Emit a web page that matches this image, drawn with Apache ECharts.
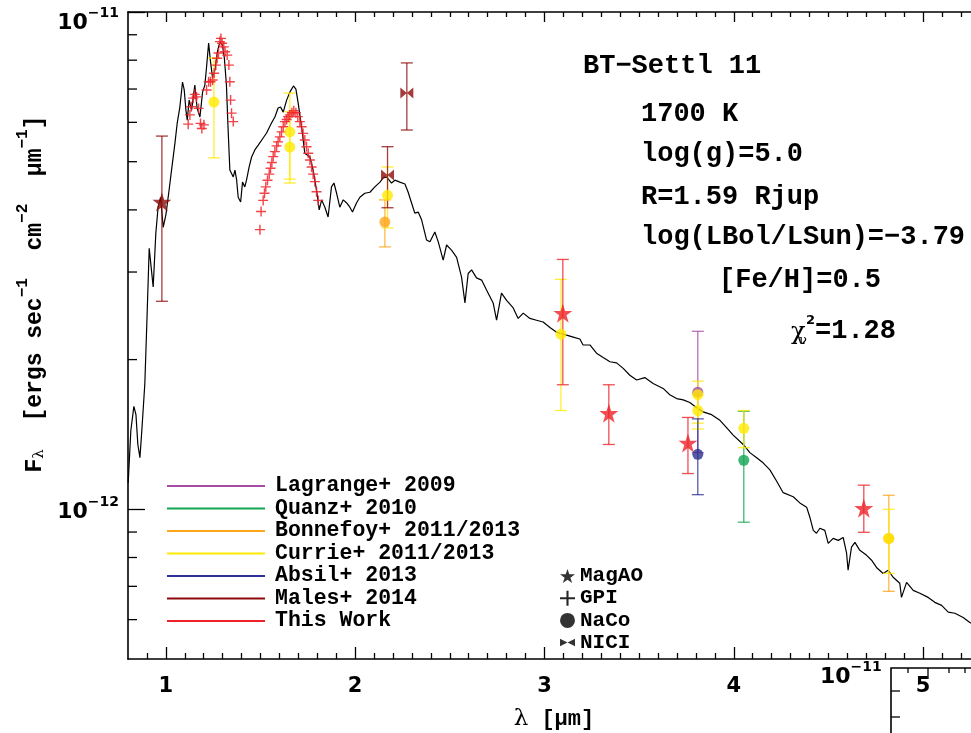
<!DOCTYPE html>
<html><head><meta charset="utf-8">
<script src="https://cdn.jsdelivr.net/npm/echarts@6/dist/echarts.min.js"></script>
<style>html,body{margin:0;padding:0;background:#fff}#c{width:971px;height:733px}</style>
</head><body><div id="c"></div>
<script>
// ---------------- DATA (wavelength in micron, flux in units of 1e-12 erg s^-1 cm^-2 um^-1) -------------
const modelLambda = [0.801,0.815,0.831,0.842,0.852,0.863,0.873,0.889,0.900,0.912,0.919,0.933,0.947,0.959,0.972,0.986,1.000,1.017,1.030,1.048,1.060,1.074,1.088,1.097,1.106,1.113,1.123,1.136,1.153,1.165,1.180,1.194,1.206,1.215,1.226,1.236,1.247,1.259,1.272,1.285,1.299,1.309,1.320,1.328,1.338,1.356,1.365,1.374,1.382,1.395,1.405,1.417,1.426,1.440,1.453,1.470,1.488,1.514,1.532,1.558,1.576,1.593,1.606,1.620,1.638,1.655,1.674,1.687,1.699,1.717,1.734,1.761,1.778,1.796,1.810,1.823,1.840,1.857,1.875,1.888,1.902,1.919,1.937,1.955,1.972,1.986,2.007,2.025,2.051,2.078,2.104,2.131,2.148,2.166,2.192,2.210,2.236,2.263,2.280,2.298,2.315,2.333,2.351,2.377,2.395,2.421,2.439,2.465,2.483,2.509,2.536,2.562,2.580,2.597,2.615,2.641,2.668,2.694,2.729,2.747,2.773,2.800,2.835,2.861,2.888,2.923,2.958,2.993,3.029,3.064,3.117,3.152,3.187,3.204,3.240,3.275,3.310,3.346,3.381,3.416,3.451,3.487,3.530,3.574,3.627,3.662,3.698,3.733,3.768,3.804,3.838,3.883,3.927,3.962,3.997,4.050,4.085,4.121,4.155,4.191,4.226,4.261,4.314,4.349,4.385,4.402,4.420,4.437,4.455,4.481,4.499,4.525,4.552,4.578,4.596,4.604,4.622,4.640,4.666,4.702,4.728,4.754,4.789,4.816,4.842,4.877,4.886,4.913,4.948,4.983,5.027,5.062,5.098,5.133,5.168,5.212,5.247,5.327];
const modelFlux = [1.13,1.44,1.61,1.55,1.35,1.27,1.44,1.79,2.40,3.35,3.32,2.80,3.59,4.05,4.24,3.69,3.91,4.38,4.81,5.45,5.98,6.44,7.23,6.97,6.35,6.06,6.65,6.35,7.13,6.41,6.15,6.90,7.13,7.75,8.66,7.93,7.37,7.64,8.31,8.70,8.58,8.08,7.13,5.92,4.81,4.66,4.81,4.59,4.24,4.15,4.55,4.45,4.59,4.88,5.11,5.28,5.40,5.58,5.71,5.98,6.15,6.41,6.44,6.29,6.65,6.90,7.10,7.00,6.56,5.87,5.20,5.11,4.81,4.38,4.00,4.19,4.05,3.87,4.45,4.53,4.32,4.05,4.19,4.13,4.05,3.96,4.13,4.24,4.32,4.34,4.45,4.55,4.64,4.66,4.53,4.59,4.55,4.51,4.34,4.13,3.94,3.96,3.82,3.48,3.45,3.61,3.45,3.17,3.40,3.32,3.21,2.93,2.60,2.98,3.03,2.92,2.89,2.76,2.60,2.40,2.72,2.63,2.54,2.42,2.48,2.42,2.40,2.38,2.32,2.27,2.24,2.22,2.20,2.14,2.14,2.06,2.02,1.98,1.97,1.92,1.86,1.82,1.84,1.79,1.75,1.70,1.67,1.66,1.64,1.60,1.57,1.55,1.51,1.46,1.41,1.35,1.30,1.27,1.24,1.20,1.14,1.08,1.06,1.03,1.01,0.964,0.907,0.895,0.916,0.907,0.854,0.874,0.866,0.878,0.816,0.754,0.839,0.858,0.827,0.808,0.790,0.764,0.743,0.754,0.730,0.710,0.665,0.713,0.687,0.678,0.665,0.650,0.641,0.621,0.618,0.606,0.592,0.576];

// GPI spectra (This Work), J and H bands
const gpiLambda = [1.118,1.127,1.134,1.144,1.153,1.162,1.173,1.183,1.190,1.201,1.215,1.226,1.236,1.247,1.255,1.264,1.271,1.278,1.285,1.291,1.297,1.306,1.313,1.324,1.333,1.338,1.342,1.347,1.356,
  1.497,1.503,1.514,1.521,1.528,1.537,1.546,1.553,1.560,1.567,1.576,1.585,1.593,1.602,1.611,1.620,1.629,1.638,1.646,1.655,1.666,1.676,1.687,1.697,1.708,1.717,1.725,1.734,1.743,1.752,1.761,1.770,1.778,1.787,1.796,1.805];
const gpiFlux = [5.95,6.21,6.45,6.71,6.83,6.75,6.40,5.97,5.83,5.93,6.97,7.24,7.24,7.30,7.53,7.82,8.07,8.27,8.72,8.85,8.65,8.51,8.32,8.19,7.82,7.24,6.65,6.26,6.02,
  3.65,3.97,4.18,4.32,4.45,4.59,4.72,4.85,4.98,5.12,5.24,5.38,5.48,5.61,5.74,5.88,6.02,6.08,6.16,6.21,6.27,6.33,6.27,6.16,6.02,5.88,5.70,5.53,5.36,5.20,5.04,4.88,4.72,4.56,4.35,4.18];

// MagAO photometry
const magaoLambda = [0.979, 3.097, 3.340, 3.758, 4.687];
const magaoFlux   = [4.15, 2.48, 1.56, 1.36, 1.005];
const magaoLow    = [2.62, 1.78, 1.35, 1.18, 0.899];
const magaoHigh   = [5.63, 3.18, 1.78, 1.53, 1.118];
const magaoSource = ['Males+ 2014','This Work','This Work','This Work','This Work'];

// NICI photometry
const niciLambda = [2.171, 2.273];
const niciFlux   = [4.70, 6.87];
const niciLow    = [4.04, 5.79];
const niciHigh   = [5.36, 7.90];
const niciSource = ['Males+ 2014','Males+ 2014'];

// NaCo photometry
const nacoLambda = [1.254,1.655,1.655,2.157,2.171,3.087,3.810,3.810,3.810,3.810,4.053,4.053,4.819,4.819];
const nacoFlux   = [6.59,5.74,5.35,3.78,4.28,2.25,1.72,1.70,1.58,1.29,1.455,1.255,0.874,0.874];
const nacoLow    = [5.09,4.61,4.53,3.37,3.68,1.58,1.30,1.45,1.49,1.07,1.33,0.942,0.684,0.743];
const nacoHigh   = [8.08,6.87,6.30,4.19,4.88,2.90,2.28,1.81,1.70,1.52,1.58,1.575,1.067,1.00];
const nacoSource = ['Currie+ 2011/2013','Currie+ 2011/2013','Currie+ 2011/2013','Bonnefoy+ 2011/2013','Currie+ 2011/2013','Currie+ 2011/2013','Lagrange+ 2009','Currie+ 2011/2013','Currie+ 2011/2013','Absil+ 2013','Currie+ 2011/2013','Quanz+ 2010','Bonnefoy+ 2011/2013','Currie+ 2011/2013'];

const sourceNames = ['Lagrange+ 2009','Quanz+ 2010','Bonnefoy+ 2011/2013','Currie+ 2011/2013','Absil+ 2013','Males+ 2014','This Work'];
const instrumentNames = ['MagAO','GPI','NaCo','NICI'];

// axis ticks
const xMajorTicks = [1,2,3,4,5];
const xMinorTicks = [0.9,1.1,1.2,1.3,1.4,1.5,1.6,1.7,1.8,1.9,2.1,2.2,2.3,2.4,2.5,2.6,2.7,2.8,2.9,3.1,3.2,3.3,3.4,3.5,3.6,3.7,3.8,3.9,4.1,4.2,4.3,4.4,4.5,4.6,4.7,4.8,4.9,5.1,5.2];
const yMinorTicks = [0.6,0.7,0.8,0.9,2,3,4,5,6,7,8,9];
const yTickLabels = {1: '−12', 10: '−11'};

// annotation texts
const modelTitle = 'BT−Settl 11';
const modelParams = ['1700 K','log(g)=5.0','R=1.59 Rjup','log(LBol/LSun)=−3.79'];
const metalText = '[Fe/H]=0.5';
const chiText = '=1.28';

// ---------------- STYLES ----------------
const sourceColor = {
  'Lagrange+ 2009': '#a54ca5',
  'Quanz+ 2010': '#13a553',
  'Bonnefoy+ 2011/2013': '#ffa51c',
  'Currie+ 2011/2013': '#ffea00',
  'Absil+ 2013': '#2e3192',
  'Males+ 2014': '#8e0b0b',
  'This Work': '#ee2228'
};
const STAR = 'path://M50,2L61.8,37.6L99,37.6L68.9,59.4L80.4,95L50,73L19.6,95L31.1,59.4L1,37.6L38.2,37.6Z';
const PLUS = 'path://M4.3,0H5.7V4.3H10V5.7H5.7V10H4.3V5.7H0V4.3H4.3Z';
const BOWTIE = 'path://M0,0L10,5L0,10ZM20,0L10,5L20,10Z';
const MONO = 'Liberation Mono';
const SANS = 'DejaVu Sans';

// ---------------- BUILD ----------------
function pts(lam, f, src) { return lam.map((l, i) => ({ value: [l, f[i]], itemStyle: { color: sourceColor[src[i]] } })); }
const allLam = magaoLambda.concat(niciLambda, nacoLambda);
const allLow = magaoLow.concat(niciLow, nacoLow);
const allHigh = magaoHigh.concat(niciHigh, nacoHigh);
const allSrc = magaoSource.concat(niciSource, nacoSource);

function errRender(params, api) {
  const x = api.value(0);
  const p1 = api.coord([x, api.value(1)]);
  const p2 = api.coord([x, api.value(2)]);
  const c = api.visual('color');
  const w = 6;
  const st = { stroke: c, lineWidth: 1.3, opacity: 0.8 };
  return { type: 'group', children: [
    { type: 'line', shape: { x1: p1[0], y1: p1[1], x2: p2[0], y2: p2[1] }, style: st },
    { type: 'line', shape: { x1: p1[0]-w, y1: p1[1], x2: p1[0]+w, y2: p1[1] }, style: st },
    { type: 'line', shape: { x1: p2[0]-w, y1: p2[1], x2: p2[0]+w, y2: p2[1] }, style: st }
  ]};
}

const errSeries = sourceNames.map(name => ({
  name, type: 'custom', renderItem: errRender, z: 3,
  itemStyle: { color: sourceColor[name] },
  encode: { x: 0, y: [1, 2] },
  data: allLam.map((l, i) => allSrc[i] === name ? [l, allLow[i], allHigh[i]] : null).filter(d => d)
}));

const axisLineStyle = { color: '#000', width: 1.6 };
const tickStyle = { color: '#000', width: 1.3 };
const xBase = { type: 'value', min: 0.8, max: 5.3, splitLine: { show: false } };

const option = {
  animation: false,
  backgroundColor: '#fff',
  grid: { left: 128, top: 12, width: 851.85, height: 647, outerBoundsMode: 'none', containLabel: false },
  xAxis: [
    Object.assign({}, xBase, { position: 'bottom',
      axisLine: { show: true, onZero: false, lineStyle: axisLineStyle },
      axisTick: { show: true, inside: true, length: 12, customValues: xMajorTicks, lineStyle: tickStyle },
      axisLabel: { customValues: xMajorTicks, fontFamily: SANS, fontWeight: 'bold', fontSize: 21, color: '#000', margin: 17 },
      name: '{l|λ}{t| [μm]}', nameLocation: 'middle', nameGap: 49,
      nameTextStyle: { rich: { l: { fontFamily: 'DejaVu Serif', fontSize: 23, color: '#000' }, t: { fontFamily: MONO, fontWeight: 'bold', fontSize: 22, color: '#000' } } }
    }),
    Object.assign({}, xBase, { position: 'bottom', axisLine: { show: false },
      axisTick: { show: true, inside: true, length: 6, customValues: xMinorTicks, lineStyle: tickStyle },
      axisLabel: { show: false } }),
    Object.assign({}, xBase, { position: 'top',
      axisLine: { show: true, onZero: false, lineStyle: axisLineStyle },
      axisTick: { show: true, inside: true, length: 10, customValues: xMajorTicks, lineStyle: tickStyle },
      axisLabel: { show: false } }),
    Object.assign({}, xBase, { position: 'top', axisLine: { show: false },
      axisTick: { show: true, inside: true, length: 5, customValues: xMinorTicks, lineStyle: tickStyle },
      axisLabel: { show: false } })
  ],
  yAxis: [{
    type: 'log', logBase: 10, min: 0.5, max: 10, position: 'left',
    splitLine: { show: false },
    axisLine: { show: true, onZero: false, lineStyle: axisLineStyle },
    axisTick: { show: true, inside: true, length: 17, lineStyle: tickStyle },
    axisLabel: {
      showMinLabel: false, margin: 9,
      formatter: v => {
        const k = Math.round(v);
        if (Math.abs(v - k) > 1e-6 || !yTickLabels[k]) return '';
        return k === 10 ? '{g| }\n{b|10}{s|' + yTickLabels[k] + '}' : '{b|10}{s|' + yTickLabels[k] + '}';
      },
      rich: {
        b: { fontFamily: SANS, fontWeight: 'bold', fontSize: 22, color: '#000', lineHeight: 28, verticalAlign: 'bottom' },
        s: { fontFamily: SANS, fontWeight: 'bold', fontSize: 14, color: '#000', lineHeight: 14, verticalAlign: 'top' },
        g: { fontSize: 4, lineHeight: 16 }
      }
    }
  }],
  legend: [
    { orient: 'vertical', left: 162, top: 470, itemWidth: 98, itemHeight: 2, itemGap: 0.5, icon: 'rect', selectedMode: false,
      textStyle: { fontFamily: MONO, fontWeight: 'bold', fontSize: 21.5, color: '#000', lineHeight: 22, padding: [0, 0, 0, 5] },
      data: sourceNames.map(n => ({ name: n, icon: 'rect', itemStyle: { color: sourceColor[n] } })) },
    { orient: 'vertical', left: 555, top: 560, itemWidth: 15, itemHeight: 15, itemGap: 0.2, selectedMode: false,
      textStyle: { fontFamily: MONO, fontWeight: 'bold', fontSize: 21, color: '#000', lineHeight: 22, padding: [0, 0, 0, 0] },
      data: [
        { name: instrumentNames[0], icon: STAR, itemStyle: { color: '#000' } },
        { name: instrumentNames[1], icon: PLUS, itemStyle: { color: '#000' } },
        { name: instrumentNames[2], icon: 'circle', itemStyle: { color: '#000' } },
        { name: instrumentNames[3], icon: BOWTIE, itemStyle: { color: '#000' } }
      ] }
  ],
  series: [
    { name: 'BT-Settl', type: 'line', showSymbol: false, z: 1, lineStyle: { color: '#000', width: 1.2 }, itemStyle: { color: '#000' },
      data: modelLambda.map((l, i) => [l, modelFlux[i]]) },
    ...errSeries,
    { name: instrumentNames[1], type: 'scatter', symbol: PLUS, symbolSize: 10, z: 4,
      itemStyle: { color: sourceColor['This Work'], opacity: 0.85 },
      data: gpiLambda.map((l, i) => [l, gpiFlux[i]]) },
    { name: instrumentNames[2], type: 'scatter', symbol: 'circle', symbolSize: 11, z: 4, data: pts(nacoLambda, nacoFlux, nacoSource) },
    { name: instrumentNames[3], type: 'scatter', symbol: BOWTIE, symbolSize: [13, 11], z: 4, data: pts(niciLambda, niciFlux, niciSource) },
    { name: instrumentNames[0], type: 'scatter', symbol: STAR, symbolSize: 19, z: 5, data: pts(magaoLambda, magaoFlux, magaoSource) },
    { name: 'yMinorTicks', type: 'custom', silent: true, z: 6, clip: false,
      renderItem: (p, api) => { const c = api.coord([0.8, api.value(1)]);
        return { type: 'line', shape: { x1: c[0], y1: c[1], x2: c[0] + 9, y2: c[1] }, style: { stroke: '#000', lineWidth: 1.3 } }; },
      encode: { x: 0, y: 1 },
      data: yMinorTicks.map(v => [0.8, v]) }
  ],
  graphic: [
    { type: 'text', x: 31, y: 294, rotation: Math.PI / 2, silent: true,
      style: { text: '{b|F}{sub|λ}{b|  [ergs sec}{sup|−1}{b|  cm}{sup|−2}{b|  μm}{sup|−1}{b|]}', align: 'center', verticalAlign: 'middle',
        rich: {
          b: { fontFamily: MONO, fontWeight: 'bold', fontSize: 23, fill: '#000', lineHeight: 32, verticalAlign: 'bottom' },
          sub: { fontFamily: 'DejaVu Serif', fontSize: 15, fill: '#000', lineHeight: 14, verticalAlign: 'bottom' },
          sup: { fontFamily: MONO, fontWeight: 'bold', fontSize: 16, fill: '#000', lineHeight: 15, verticalAlign: 'top' }
        } } },
    { type: 'text', x: 583, y: 66, silent: true, style: { text: modelTitle, fontFamily: MONO, fontWeight: 'bold', fontSize: 27, fill: '#000', verticalAlign: 'middle' } },
    { type: 'text', x: 641, y: 114, silent: true, style: { text: modelParams[0], fontFamily: MONO, fontWeight: 'bold', fontSize: 27, fill: '#000', verticalAlign: 'middle' } },
    { type: 'text', x: 641, y: 154, silent: true, style: { text: modelParams[1], fontFamily: MONO, fontWeight: 'bold', fontSize: 27, fill: '#000', verticalAlign: 'middle' } },
    { type: 'text', x: 641, y: 197, silent: true, style: { text: modelParams[2], fontFamily: MONO, fontWeight: 'bold', fontSize: 27, fill: '#000', verticalAlign: 'middle' } },
    { type: 'text', x: 641, y: 237, silent: true, style: { text: modelParams[3], fontFamily: MONO, fontWeight: 'bold', fontSize: 27, fill: '#000', verticalAlign: 'middle' } },
    { type: 'text', x: 719, y: 280, silent: true, style: { text: metalText, fontFamily: MONO, fontWeight: 'bold', fontSize: 27, fill: '#000', verticalAlign: 'middle' } },
    { type: 'text', x: 791, y: 333, silent: true, style: { text: 'χ', fontFamily: 'DejaVu Serif', fontSize: 24, fill: '#000', verticalAlign: 'middle' } },
    { type: 'text', x: 806, y: 321, silent: true, style: { text: '2', fontFamily: SANS, fontWeight: 'bold', fontSize: 13, fill: '#000', verticalAlign: 'middle' } },
    { type: 'text', x: 799, y: 341, silent: true, style: { text: 'ν', fontFamily: 'DejaVu Serif', fontSize: 13, fill: '#000', verticalAlign: 'middle' } },
    { type: 'text', x: 815, y: 331, silent: true, style: { text: chiText, fontFamily: MONO, fontWeight: 'bold', fontSize: 27, fill: '#000', verticalAlign: 'middle' } },
    // stray overlapping panel corner at bottom right
    { type: 'text', x: 820, y: 674, silent: true, style: { text: '{b|10}{s|−11}', verticalAlign: 'middle',
        rich: { b: { fontFamily: SANS, fontWeight: 'bold', fontSize: 22, fill: '#000', lineHeight: 28, verticalAlign: 'bottom' },
                s: { fontFamily: SANS, fontWeight: 'bold', fontSize: 14, fill: '#000', lineHeight: 14, verticalAlign: 'top' } } } },
    { type: 'polyline', silent: true, shape: { points: [[975, 668], [891, 668], [891, 740]] }, style: { stroke: '#000', lineWidth: 1.6, fill: null } },
    { type: 'line', silent: true, shape: { x1: 908, y1: 668, x2: 908, y2: 673 }, style: { stroke: '#000', lineWidth: 1.3 } },
    { type: 'line', silent: true, shape: { x1: 928, y1: 668, x2: 928, y2: 679 }, style: { stroke: '#000', lineWidth: 1.3 } },
    { type: 'line', silent: true, shape: { x1: 949, y1: 668, x2: 949, y2: 673 }, style: { stroke: '#000', lineWidth: 1.3 } },
    { type: 'line', silent: true, shape: { x1: 965, y1: 668, x2: 965, y2: 673 }, style: { stroke: '#000', lineWidth: 1.3 } },
    { type: 'line', silent: true, shape: { x1: 891, y1: 691, x2: 900, y2: 691 }, style: { stroke: '#000', lineWidth: 1.3 } },
    { type: 'line', silent: true, shape: { x1: 891, y1: 717, x2: 900, y2: 717 }, style: { stroke: '#000', lineWidth: 1.3 } }
  ]
};

const chart = echarts.init(document.getElementById('c'), null, { renderer: 'canvas' });
chart.setOption(option);
</script>
</body></html>
